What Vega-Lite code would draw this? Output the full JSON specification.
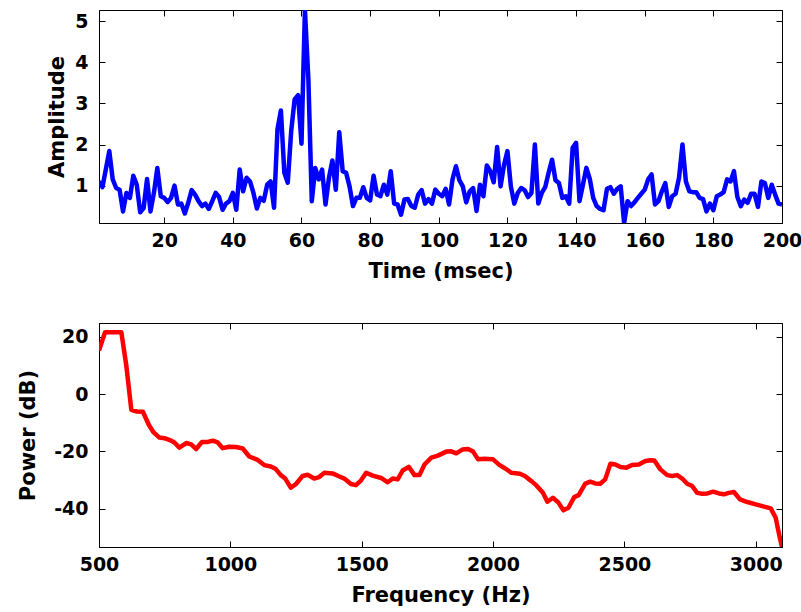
{
  "$schema": "https://vega.github.io/schema/vega-lite/v6.json",
  "background": "white",
  "padding": {"left": 16, "top": 9, "right": 20, "bottom": 4},
  "spacing": 100,
  "bounds": "flush",
  "config": {
    "font": "DejaVu Sans",
    "view": {"stroke": "#000000", "strokeWidth": 1},
    "axis": {
      "grid": false,
      "domainColor": "#000000",
      "tickColor": "#000000",
      "tickSize": -6,
      "labelFont": "DejaVu Sans",
      "labelFontSize": 19,
      "labelFontWeight": "bold",
      "labelColor": "#000000",
      "titleFont": "DejaVu Sans",
      "titleFontSize": 21,
      "titleFontWeight": "bold",
      "titleColor": "#000000",
      "labelFlush": false,
      "labelOverlap": false,
      "labelBound": false
    }
  },
  "vconcat": [
    {
      "width": 683,
      "height": 213,
      "data": {"values": [
        {"t":1,"amp":1.1},{"t":2,"amp":0.96},{"t":3,"amp":1.4},{"t":4,"amp":1.84},{"t":5,"amp":1.15},{"t":6,"amp":0.94},{"t":7,"amp":0.9},{"t":8,"amp":0.37},{"t":9,"amp":0.82},{"t":10,"amp":0.7},
        {"t":11,"amp":1.24},{"t":12,"amp":1.02},{"t":13,"amp":0.35},{"t":14,"amp":0.45},{"t":15,"amp":1.16},{"t":16,"amp":0.37},{"t":17,"amp":0.82},{"t":18,"amp":1.43},{"t":19,"amp":0.74},{"t":20,"amp":0.7},
        {"t":21,"amp":0.6},{"t":22,"amp":0.7},{"t":23,"amp":1.0},{"t":24,"amp":0.54},{"t":25,"amp":0.56},{"t":26,"amp":0.32},{"t":27,"amp":0.58},{"t":28,"amp":0.89},{"t":29,"amp":0.78},{"t":30,"amp":0.62},
        {"t":31,"amp":0.5},{"t":32,"amp":0.56},{"t":33,"amp":0.43},{"t":34,"amp":0.62},{"t":35,"amp":0.82},{"t":36,"amp":0.72},{"t":37,"amp":0.41},{"t":38,"amp":0.56},{"t":39,"amp":0.62},{"t":40,"amp":0.82},
        {"t":41,"amp":0.41},{"t":42,"amp":1.39},{"t":43,"amp":0.86},{"t":44,"amp":1.19},{"t":45,"amp":1.1},{"t":46,"amp":0.82},{"t":47,"amp":0.44},{"t":48,"amp":0.7},{"t":49,"amp":0.63},{"t":50,"amp":1.02},
        {"t":51,"amp":1.1},{"t":52,"amp":0.46},{"t":53,"amp":2.37},{"t":54,"amp":2.83},{"t":55,"amp":1.31},{"t":56,"amp":1.07},{"t":57,"amp":2.33},{"t":58,"amp":3.1},{"t":59,"amp":3.2},{"t":60,"amp":2.02},
        {"t":61,"amp":5.276},{"t":62,"amp":3.6},{"t":63,"amp":0.62},{"t":64,"amp":1.43},{"t":65,"amp":1.15},{"t":66,"amp":1.39},{"t":67,"amp":0.54},{"t":68,"amp":1.19},{"t":69,"amp":1.61},{"t":70,"amp":0.9},
        {"t":71,"amp":2.3},{"t":72,"amp":1.35},{"t":73,"amp":1.31},{"t":74,"amp":0.98},{"t":75,"amp":0.5},{"t":76,"amp":0.7},{"t":77,"amp":0.7},{"t":78,"amp":0.96},{"t":79,"amp":0.7},{"t":80,"amp":0.64},
        {"t":81,"amp":1.24},{"t":82,"amp":0.78},{"t":83,"amp":0.74},{"t":84,"amp":1.02},{"t":85,"amp":0.78},{"t":86,"amp":1.35},{"t":87,"amp":0.56},{"t":88,"amp":0.54},{"t":89,"amp":0.29},{"t":90,"amp":0.66},
        {"t":91,"amp":0.67},{"t":92,"amp":0.5},{"t":93,"amp":0.46},{"t":94,"amp":0.78},{"t":95,"amp":0.89},{"t":96,"amp":0.56},{"t":97,"amp":0.67},{"t":98,"amp":0.56},{"t":99,"amp":0.9},{"t":100,"amp":0.8},
        {"t":101,"amp":0.74},{"t":102,"amp":0.92},{"t":103,"amp":0.54},{"t":104,"amp":1.15},{"t":105,"amp":1.47},{"t":106,"amp":1.13},{"t":107,"amp":0.98},{"t":108,"amp":0.59},{"t":109,"amp":0.86},{"t":110,"amp":0.94},
        {"t":111,"amp":0.38},{"t":112,"amp":1.02},{"t":113,"amp":0.74},{"t":114,"amp":1.49},{"t":115,"amp":1.35},{"t":116,"amp":1.08},{"t":117,"amp":1.94},{"t":118,"amp":0.98},{"t":119,"amp":1.5},{"t":120,"amp":1.84},
        {"t":121,"amp":0.98},{"t":122,"amp":0.56},{"t":123,"amp":0.82},{"t":124,"amp":0.94},{"t":125,"amp":0.89},{"t":126,"amp":0.72},{"t":127,"amp":0.82},{"t":128,"amp":2.0},{"t":129,"amp":0.56},{"t":130,"amp":0.82},
        {"t":131,"amp":0.96},{"t":132,"amp":1.31},{"t":133,"amp":1.63},{"t":134,"amp":1.13},{"t":135,"amp":1.06},{"t":136,"amp":0.7},{"t":137,"amp":0.74},{"t":138,"amp":0.56},{"t":139,"amp":1.92},{"t":140,"amp":2.04},
        {"t":141,"amp":0.62},{"t":142,"amp":1.02},{"t":143,"amp":1.43},{"t":144,"amp":1.16},{"t":145,"amp":0.7},{"t":146,"amp":0.5},{"t":147,"amp":0.43},{"t":148,"amp":0.4},{"t":149,"amp":0.92},{"t":150,"amp":0.96},
        {"t":151,"amp":0.8},{"t":152,"amp":0.92},{"t":153,"amp":0.98},{"t":154,"amp":0.088},{"t":155,"amp":0.62},{"t":156,"amp":0.5},{"t":157,"amp":0.59},{"t":158,"amp":0.7},{"t":159,"amp":0.8},{"t":160,"amp":0.9},
        {"t":161,"amp":1.15},{"t":162,"amp":1.27},{"t":163,"amp":0.54},{"t":164,"amp":0.62},{"t":165,"amp":0.86},{"t":166,"amp":1.06},{"t":167,"amp":0.48},{"t":168,"amp":0.74},{"t":169,"amp":0.8},{"t":170,"amp":1.19},
        {"t":171,"amp":2.0},{"t":172,"amp":1.1},{"t":173,"amp":0.86},{"t":174,"amp":0.84},{"t":175,"amp":0.84},{"t":176,"amp":0.7},{"t":177,"amp":0.67},{"t":178,"amp":0.37},{"t":179,"amp":0.56},{"t":180,"amp":0.4},
        {"t":181,"amp":0.74},{"t":182,"amp":0.78},{"t":183,"amp":0.84},{"t":184,"amp":1.15},{"t":185,"amp":1.1},{"t":186,"amp":1.35},{"t":187,"amp":0.72},{"t":188,"amp":0.5},{"t":189,"amp":0.66},{"t":190,"amp":0.58},
        {"t":191,"amp":0.8},{"t":192,"amp":0.8},{"t":193,"amp":0.48},{"t":194,"amp":1.1},{"t":195,"amp":1.06},{"t":196,"amp":0.7},{"t":197,"amp":1.02},{"t":198,"amp":0.78},{"t":199,"amp":0.56},{"t":200,"amp":0.54}
      ]},
      "layer": [
        {
          "mark": {"type": "line", "color": "#0000ff", "strokeWidth": 4.5, "clip": true, "strokeJoin": "round"},
          "encoding": {
            "x": {"field": "t", "type": "quantitative",
              "scale": {"domain": [1, 200], "nice": false, "zero": false},
              "axis": {"orient": "bottom", "values": [20,40,60,80,100,120,140,160,180,200], "format": "d", "title": "Time (msec)", "labelPadding": 14, "titleY": 54, "titleBaseline": "alphabetic"}},
            "y": {"field": "amp", "type": "quantitative",
              "scale": {"domain": [0.088, 5.276], "nice": false, "zero": false},
              "axis": {"orient": "left", "values": [1,2,3,4,5], "title": "Amplitude", "labelPadding": 17, "titleX": -36, "titleBaseline": "alphabetic"}}
          }
        },
        {
          "mark": {"type": "line", "strokeOpacity": 0, "clip": true},
          "encoding": {
            "x": {"field": "t", "type": "quantitative",
              "scale": {"domain": [1, 200], "nice": false, "zero": false},
              "axis": {"orient": "top", "values": [20,40,60,80,100,120,140,160,180,200], "labels": false, "title": null}},
            "y": {"field": "amp", "type": "quantitative",
              "scale": {"domain": [0.088, 5.276], "nice": false, "zero": false},
              "axis": {"orient": "right", "values": [1,2,3,4,5], "labels": false, "title": null}}
          }
        }
      ],
      "resolve": {"axis": {"x": "independent", "y": "independent"}}
    },
    {
      "width": 683,
      "height": 224,
      "data": {"values": [
        {"f":500,"db":15.2},{"f":523,"db":21.6},{"f":548,"db":21.6},{"f":585,"db":21.6},{"f":604,"db":9.9},{"f":623,"db":-5.5},{"f":644,"db":-6.1},{"f":667,"db":-6.2},
        {"f":690,"db":-10.8},{"f":708,"db":-13.4},{"f":730,"db":-15.2},{"f":749,"db":-15.4},{"f":775,"db":-16.3},{"f":787,"db":-16.9},{"f":806,"db":-18.7},{"f":832,"db":-17.1},
        {"f":851,"db":-17.6},{"f":870,"db":-19.2},{"f":892,"db":-16.7},{"f":914,"db":-16.7},{"f":933,"db":-16.3},{"f":952,"db":-16.9},{"f":971,"db":-18.9},{"f":996,"db":-18.4},
        {"f":1022,"db":-18.5},{"f":1047,"db":-19.0},{"f":1072,"db":-21.8},{"f":1104,"db":-23.0},{"f":1129,"db":-24.8},{"f":1154,"db":-25.3},{"f":1173,"db":-26.2},{"f":1192,"db":-28.3},
        {"f":1209,"db":-29.5},{"f":1230,"db":-32.7},{"f":1249,"db":-31.5},{"f":1275,"db":-28.6},{"f":1294,"db":-28.2},{"f":1319,"db":-29.5},{"f":1338,"db":-29.0},{"f":1358,"db":-27.5},
        {"f":1389,"db":-27.7},{"f":1415,"db":-28.8},{"f":1434,"db":-29.5},{"f":1459,"db":-31.4},{"f":1478,"db":-31.8},{"f":1497,"db":-30.2},{"f":1517,"db":-27.5},{"f":1542,"db":-28.5},
        {"f":1574,"db":-29.3},{"f":1599,"db":-30.8},{"f":1618,"db":-29.5},{"f":1637,"db":-29.8},{"f":1656,"db":-26.7},{"f":1679,"db":-25.4},{"f":1701,"db":-28.3},{"f":1720,"db":-28.3},
        {"f":1739,"db":-24.6},{"f":1765,"db":-22.2},{"f":1790,"db":-21.5},{"f":1822,"db":-20.1},{"f":1841,"db":-20.0},{"f":1860,"db":-20.7},{"f":1883,"db":-19.4},{"f":1905,"db":-19.2},
        {"f":1924,"db":-20.1},{"f":1943,"db":-22.8},{"f":1968,"db":-22.6},{"f":2000,"db":-22.8},{"f":2025,"db":-24.8},{"f":2045,"db":-25.9},{"f":2070,"db":-27.5},{"f":2102,"db":-27.8},
        {"f":2121,"db":-28.6},{"f":2146,"db":-30.4},{"f":2165,"db":-31.9},{"f":2190,"db":-34.5},{"f":2207,"db":-37.6},{"f":2228,"db":-36.2},{"f":2249,"db":-37.9},{"f":2268,"db":-40.6},
        {"f":2287,"db":-39.7},{"f":2309,"db":-36.0},{"f":2326,"db":-35.3},{"f":2351,"db":-31.3},{"f":2370,"db":-30.6},{"f":2389,"db":-31.2},{"f":2408,"db":-31.3},{"f":2427,"db":-29.8},
        {"f":2447,"db":-24.3},{"f":2466,"db":-24.6},{"f":2485,"db":-25.5},{"f":2508,"db":-25.7},{"f":2529,"db":-24.8},{"f":2555,"db":-24.6},{"f":2580,"db":-23.4},{"f":2599,"db":-23.1},
        {"f":2614,"db":-23.2},{"f":2637,"db":-26.3},{"f":2663,"db":-28.3},{"f":2682,"db":-28.6},{"f":2701,"db":-28.3},{"f":2720,"db":-29.5},{"f":2739,"db":-31.3},{"f":2758,"db":-32.1},
        {"f":2777,"db":-34.5},{"f":2796,"db":-34.8},{"f":2816,"db":-34.7},{"f":2838,"db":-34.1},{"f":2860,"db":-34.7},{"f":2879,"db":-35.0},{"f":2898,"db":-34.5},{"f":2917,"db":-34.2},
        {"f":2940,"db":-36.8},{"f":2968,"db":-37.7},{"f":3000,"db":-38.5},{"f":3032,"db":-39.3},{"f":3057,"db":-39.9},{"f":3076,"db":-43.2},{"f":3089,"db":-49.0},{"f":3100,"db":-53.4}
      ]},
      "layer": [
        {
          "mark": {"type": "line", "color": "#ff0000", "strokeWidth": 4.5, "clip": true, "strokeJoin": "round"},
          "encoding": {
            "x": {"field": "f", "type": "quantitative",
              "scale": {"domain": [500, 3100], "nice": false, "zero": false},
              "axis": {"orient": "bottom", "values": [500,1000,1500,2000,2500,3000], "format": "d", "title": "Frequency (Hz)", "labelPadding": 14, "titleY": 54, "titleBaseline": "alphabetic"}},
            "y": {"field": "db", "type": "quantitative",
              "scale": {"domain": [-53.4, 24.8], "nice": false, "zero": false},
              "axis": {"orient": "left", "values": [-40,-20,0,20], "labelExpr": "toString(datum.value)", "title": "Power (dB)", "labelPadding": 17, "titleX": -65, "titleBaseline": "alphabetic"}}
          }
        },
        {
          "mark": {"type": "line", "strokeOpacity": 0, "clip": true},
          "encoding": {
            "x": {"field": "f", "type": "quantitative",
              "scale": {"domain": [500, 3100], "nice": false, "zero": false},
              "axis": {"orient": "top", "values": [500,1000,1500,2000,2500,3000], "labels": false, "title": null}},
            "y": {"field": "db", "type": "quantitative",
              "scale": {"domain": [-53.4, 24.8], "nice": false, "zero": false},
              "axis": {"orient": "right", "values": [-40,-20,0,20], "labels": false, "title": null}}
          }
        }
      ],
      "resolve": {"axis": {"x": "independent", "y": "independent"}}
    }
  ]
}
